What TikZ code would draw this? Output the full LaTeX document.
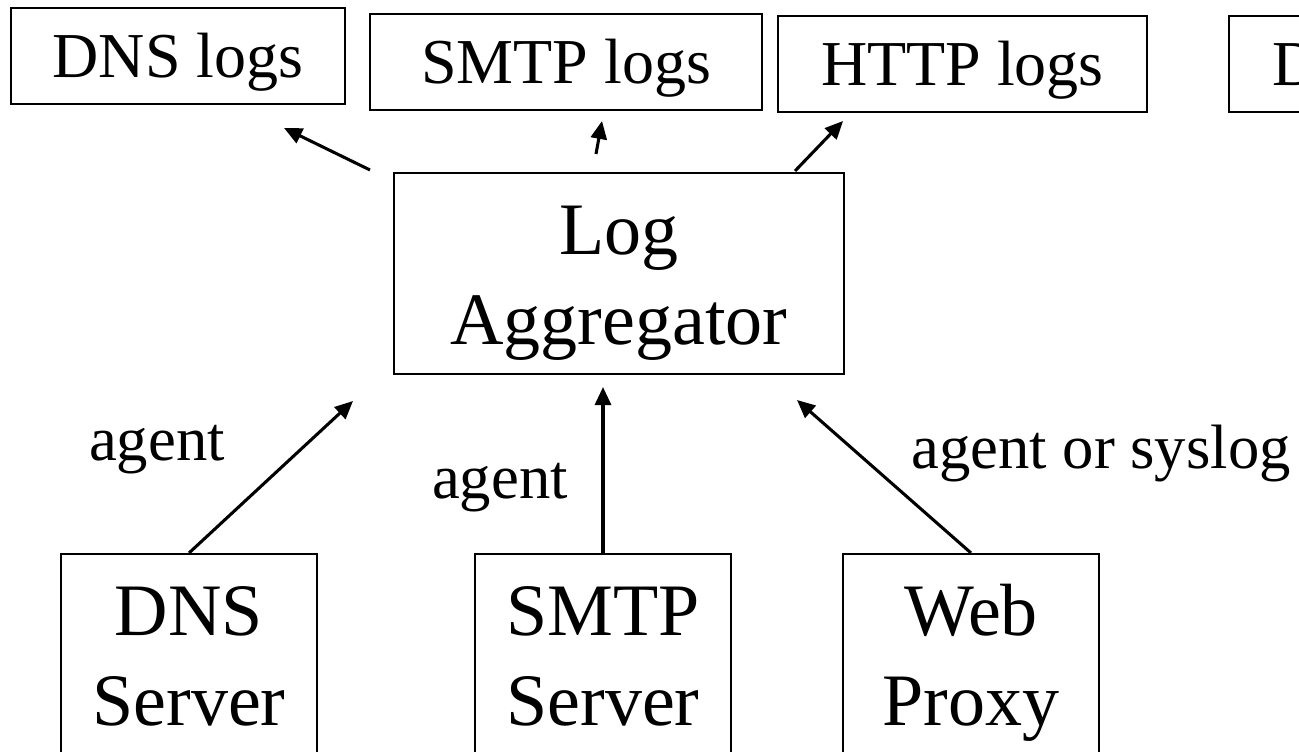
\documentclass[tikz,border=0pt]{standalone}
\usepackage{fontspec}
\setmainfont{Liberation Serif}
\usetikzlibrary{arrows.meta}

\tikzset{
  logbox/.style={draw, line width=1.4pt, inner sep=0pt, text height=52.5pt, text depth=19.5pt,
    font=\fontsize{48}{58}\selectfont},
  bigbox/.style={draw, line width=1.4pt, inner sep=0pt, align=center, text height=128.5pt, text depth=22pt,
    font=\fontsize{55.5}{67.5}\selectfont},
  feed/.style={line width=2.3pt, -{Triangle[length=13.5pt,width=12pt]}},
  tag/.style={anchor=base, font=\fontsize{47}{56}\selectfont}
}

\begin{document}
\begin{tikzpicture}[x=0.75pt,y=-0.75pt]
\useasboundingbox (0,0) rectangle (1299,752);
\clip (0,0) rectangle (1299,752);

% log stores
\node[logbox, minimum width=250.5pt] (dnslogs) at (178,7) [anchor=north] {DNS logs};
\node[logbox, minimum width=294pt] (smtplogs) at (566,13) [anchor=north] {SMTP logs};
\node[logbox, minimum width=276.75pt] (httplogs) at (962.5,15) [anchor=north] {HTTP logs};
\node[logbox, anchor=north west, inner xsep=33pt, text width=80pt, align=left] (dlogs) at (1228,15) {D};

% aggregator and sources
\node[bigbox, minimum width=337.5pt, anchor=north] (agg) at (619,172) {Log\\Aggregator};
\node[bigbox, minimum width=192pt, anchor=north] (dnssrv) at (189,553) {DNS\\Server};
\node[bigbox, minimum width=192pt, anchor=north] (smtpsrv) at (603,553) {SMTP\\Server};
\node[bigbox, minimum width=192pt, anchor=north] (proxy) at (971,553) {Web\\Proxy};

% arrow ends
\coordinate (outdns) at (370,170);
\coordinate (todns) at (284,128);
\coordinate (outsmtp) at (596,154);
\coordinate (tosmtp) at (602,121);
\coordinate (outhttp) at (795,171);
\coordinate (tohttp) at (843,121);
\coordinate (indns) at (353,401);
\coordinate (insmtp) at (603,387);
\coordinate (inproxy) at (797,400);

\draw[feed] (outdns) -- (todns);
\draw[feed] (outsmtp) -- (tosmtp);
\draw[feed] (outhttp) -- (tohttp);
\draw[feed] (dnssrv.north) -- (indns);
\draw[feed] (smtpsrv.north) -- (insmtp);
\draw[feed] (proxy.north) -- (inproxy);

\node[tag] (lbldns) at (157,460) {agent};
\node[tag] (lblsmtp) at (500,498) {agent};
\node[tag] (lblproxy) at (1101,468) {agent or syslog};
\end{tikzpicture}
\end{document}
